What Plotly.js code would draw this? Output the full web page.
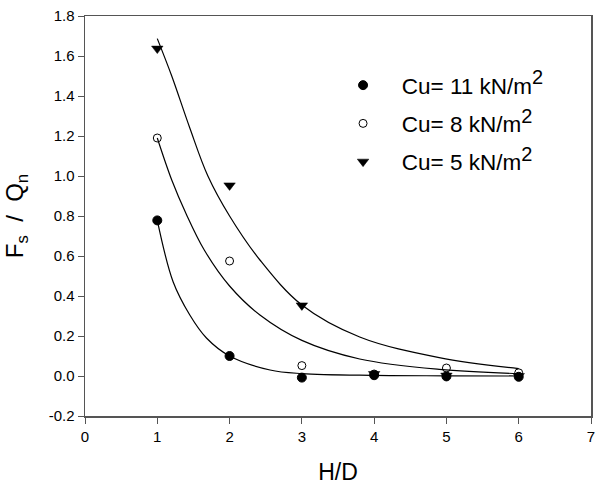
<!DOCTYPE html>
<html>
<head>
<meta charset="utf-8">
<script src="https://cdn.plot.ly/plotly-3.0.1.min.js"></script>
<style>html,body{margin:0;padding:0;background:#fff;}#chart{width:595px;height:488px;}</style>
</head>
<body>
<div id="chart"></div>
<script>
// Measured points (H/D vs Fs/Qn)
var hd = [1, 2, 3, 4, 5, 6];
var cu11 = [0.778, 0.100, -0.008, 0.004, -0.002, -0.004];
var cu8 = [1.190, 0.575, 0.052, 0.010, 0.040, 0.016];
var cu5 = [1.637, 0.953, 0.353, 0.010, 0.002, 0.000];

// Fitted curves
var fit11X = [1, 1.22, 1.45, 1.68, 2, 2.56, 3, 4, 5, 6];
var fit11Y = [0.778, 0.47, 0.305, 0.19, 0.10, 0.03, 0.012, 0.003, 0.001, 0.0];
var fit8X = [1, 1.2, 1.4, 1.65, 2, 2.42, 3, 3.8, 4.9, 6];
var fit8Y = [1.19, 0.98, 0.81, 0.63, 0.45, 0.305, 0.178, 0.085, 0.033, 0.012];
var fit5X = [1, 1.2, 1.45, 1.7, 2, 2.42, 3, 3.8, 4.9, 6];
var fit5Y = [1.687, 1.50, 1.24, 1.0, 0.80, 0.58, 0.355, 0.195, 0.092, 0.037];

var legendNames = ['Cu= 11 kN/m', 'Cu= 8 kN/m', 'Cu= 5 kN/m'];
var legendSup = '2';

var xTickVals = [0, 1, 2, 3, 4, 5, 6, 7];
var xTickText = ['0', '1', '2', '3', '4', '5', '6', '7'];
var yTickVals = [-0.2, 0.0, 0.2, 0.4, 0.6, 0.8, 1.0, 1.2, 1.4, 1.6, 1.8];
var yTickText = ['-0.2', '0.0', '0.2', '0.4', '0.6', '0.8', '1.0', '1.2', '1.4', '1.6', '1.8'];

function legendLabel(s) {
  return '\u00a0\u00a0\u00a0' + s + '<sup><span style="font-size:20px">' + legendSup + '</span></sup>';
}

var lineStyle = {color: '#000', width: 1.2, shape: 'spline', smoothing: 1};
var traces = [
  {x: fit11X, y: fit11Y, mode: 'lines', line: lineStyle, showlegend: false, hoverinfo: 'skip'},
  {x: fit8X, y: fit8Y, mode: 'lines', line: lineStyle, showlegend: false, hoverinfo: 'skip'},
  {x: fit5X, y: fit5Y, mode: 'lines', line: lineStyle, showlegend: false, hoverinfo: 'skip'},
  {x: hd, y: cu11, mode: 'markers', name: legendLabel(legendNames[0]), legendgroup: 'a',
   marker: {symbol: 'circle', size: 9, color: '#000', line: {color: '#000', width: 1}}},
  {x: hd, y: cu8, mode: 'markers', name: legendLabel(legendNames[1]), legendgroup: 'b',
   marker: {symbol: 'circle-open', size: 8, color: '#000', line: {color: '#000', width: 1}}},
  {x: hd, y: cu5, mode: 'markers', name: legendLabel(legendNames[2]), legendgroup: 'c',
   marker: {symbol: 'triangle-down', size: 10, color: '#000', line: {color: '#000', width: 0.5}}}
];

var fam = 'Liberation Sans, Arial, sans-serif';
var axisFont = {family: fam, size: 15, color: '#000'};
var layout = {
  width: 595, height: 488,
  margin: {l: 85, r: 4, t: 16, b: 72},
  paper_bgcolor: '#fff', plot_bgcolor: '#fff',
  font: {family: fam, color: '#000'},
  showlegend: true,
  legend: {
    x: 0.51, y: 0.88, xanchor: 'left', yanchor: 'top',
    bgcolor: 'rgba(0,0,0,0)', borderwidth: 0,
    font: {family: fam, size: 22.5, color: '#000'},
    tracegroupgap: 6, traceorder: 'grouped'
  },
  xaxis: {
    range: [0, 7], tickvals: xTickVals, ticktext: xTickText,
    ticks: 'outside', ticklen: 6, tickwidth: 1, tickcolor: '#555',
    showline: true, linecolor: '#555', linewidth: 1.5, mirror: true,
    showgrid: false, zeroline: false, tickfont: axisFont, ticklabeloverflow: 'allow',
    title: {text: 'H/D', font: {family: fam, size: 23, color: '#000'}, standoff: 20}
  },
  yaxis: {
    range: [-0.2, 1.8], tickvals: yTickVals, ticktext: yTickText,
    ticks: 'outside', ticklen: 6, tickwidth: 1, tickcolor: '#555',
    showline: true, linecolor: '#555', linewidth: 1.5, mirror: true,
    showgrid: false, zeroline: false, tickfont: axisFont, ticklabeloverflow: 'allow',
    title: {text: 'F<sub>s</sub>\u00a0\u00a0/\u00a0\u00a0Q<sub>n</sub>', font: {family: fam, size: 24, color: '#000'}, standoff: 18}
  }
};

Plotly.newPlot('chart', traces, layout, {staticPlot: true, displayModeBar: false});
</script>
</body>
</html>
